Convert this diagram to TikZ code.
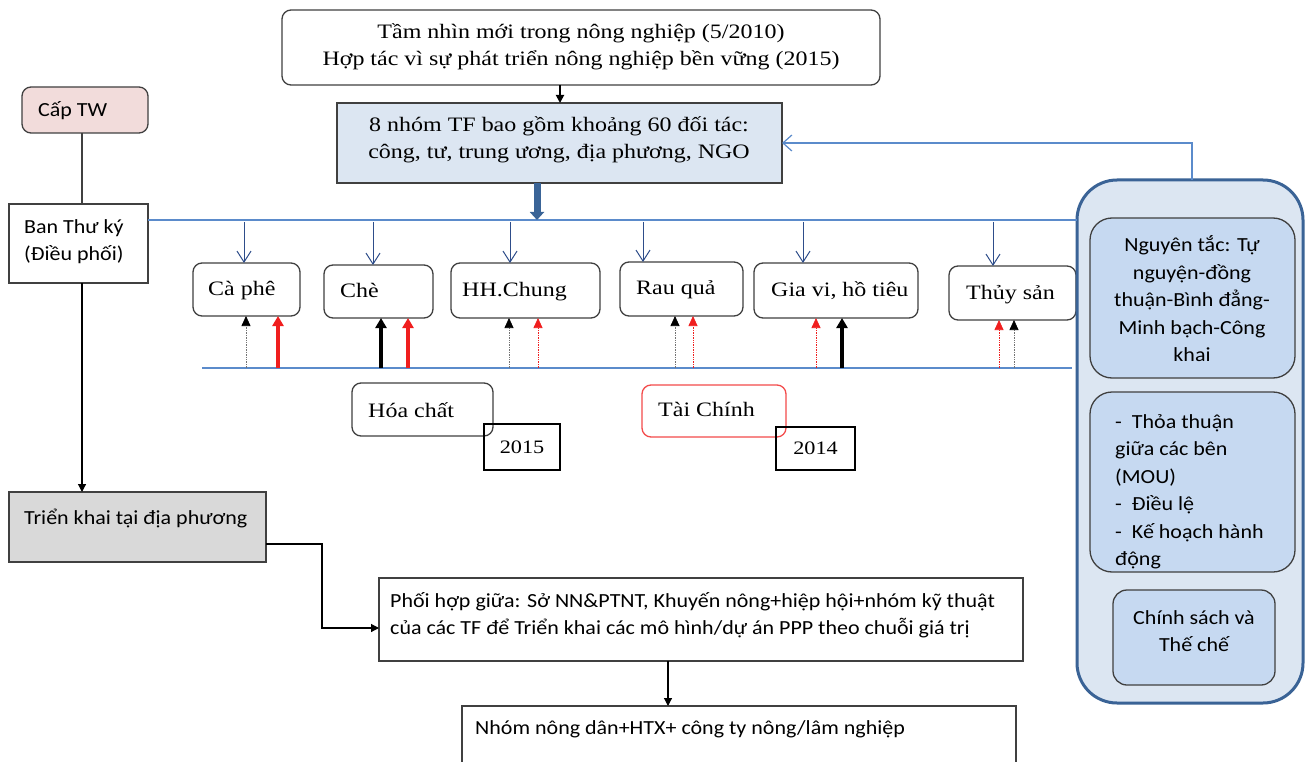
\documentclass[tikz,border=0pt]{standalone}
\usepackage{fontspec}
\setmainfont{Liberation Serif}
\newfontfamily\serf[FakeStretch=1.17]{Liberation Serif}
\newfontfamily\calf[FakeStretch=1.1]{Carlito}
\usetikzlibrary{arrows.meta,fit}
\definecolor{lineblue}{HTML}{5B8BCB}
\definecolor{arrowblue}{HTML}{2E4D8A}
\definecolor{thickblue}{HTML}{3A6497}
\definecolor{lightblue}{HTML}{DCE6F2}
\definecolor{midblue}{HTML}{C6D9F1}
\definecolor{contborder}{HTML}{3A6396}
\definecolor{pinkfill}{HTML}{F2DCDB}
\definecolor{grayfill}{HTML}{D9D9D9}
\definecolor{boxgray}{HTML}{404040}
\definecolor{myred}{HTML}{F01E1E}
\begin{document}
\begin{tikzpicture}[x=1pt,y=-1pt,
  box/.style={draw=boxgray, line width=1.3pt, inner sep=0pt, outer sep=0pt},
  rbox/.style={box, rounded corners=9pt},
  sertext/.style={font=\serf\fontsize{20.5}{27}\selectfont, inner sep=0pt},
  caltext/.style={font=\calf\fontsize{20}{27.5}\selectfont, inner sep=0pt},
  bus/.style={draw=lineblue, line width=1.2pt},
  down/.style={draw=arrowblue, line width=1pt, -{Straight Barb[length=11pt,width=14pt]}},
  blkdot/.style={draw=black!55, line width=0.7pt, densely dotted, -{Triangle[length=10pt,width=9pt,color=black]}},
  reddot/.style={draw=myred, line width=0.7pt, densely dotted, -{Triangle[length=10pt,width=9pt,color=myred]}},
  blkthick/.style={draw=black, line width=3.5pt, -{Triangle[length=10pt,width=11pt]}},
  redthick/.style={draw=myred, line width=3.5pt, -{Triangle[length=10pt,width=11pt]}},
  flow/.style={draw=black, line width=1.2pt, -{Triangle[length=8pt,width=8pt]}}
]
\useasboundingbox (0,0) rectangle (1306,762);
\fill[white] (0,0) rectangle (1306,762);

% top boxes
\node[rbox, fill=white, fit={(282,10) (880,85)}] (vision) {};
\node[sertext, align=center] (visiont) at (581,47) {Tầm nhìn mới trong nông nghiệp (5/2010)\\Hợp tác vì sự phát triển nông nghiệp bền vững (2015)};
\node[box, fill=lightblue, fit={(337,103) (782,183)}] (tf) {};
\node[sertext, align=center] (tft) at (559,140) {8 nhóm TF bao gồm khoảng 60 đối tác:\\công, tư, trung ương, địa phương, NGO};

% left column
\node[rbox, fill=pinkfill, fit={(22,87) (148,133)}] (captw) {};
\node[caltext, anchor=base west] (captwt) at (38,117) {Cấp TW};
\node[box, fill=white, fit={(9,204) (148,283)}] (bantk) {};
\node[caltext, anchor=north west, align=left] (bantkt) at (24,219) {Ban Thư ký\\(Điều phối)};
\node[box, fill=grayfill, fit={(9,492) (266,562)}] (trien) {};
\node[caltext, anchor=base west] (trient) at (24,524) {Triển khai tại địa phương};
\node[box, fill=white, fit={(379,578) (1023,661)}] (phoi) {};
\node[caltext, anchor=north west, align=left] (phoit) at (390,592) {Phối hợp giữa: Sở NN\&PTNT, Khuyến nông+hiệp hội+nhóm kỹ thuật\\của các TF để Triển khai các mô hình/dự án PPP theo chuỗi giá trị};
\node[box, fill=white, fit={(462,706) (1016,780)}] (nhom) {};
\node[caltext, anchor=base west] (nhomt) at (475,734) {Nhóm nông dân+HTX+ công ty nông/lâm nghiệp};

% categories
\node[rbox, fit={(193,263) (300,316)}] (caphe) {};
\node[sertext, anchor=base west] at (208,295) {Cà phê};
\node[rbox, fit={(324,265) (433,318)}] (che) {};
\node[sertext, anchor=base west] at (340,297) {Chè};
\node[rbox, fit={(451,263) (600,318)}] (hh) {};
\node[sertext, anchor=base west] at (462,296) {HH.Chung};
\node[rbox, fit={(620,262) (743,316)}] (rau) {};
\node[sertext, anchor=base west] at (636,294) {Rau quả};
\node[rbox, fit={(754,263) (918,318)}] (gia) {};
\node[sertext, anchor=base west] at (771,296) {Gia vi, hồ tiêu};
\node[rbox, fit={(949,266) (1076,320)}] (thuy) {};
\node[sertext, anchor=base west] at (966,299) {Thủy sản};

\node[rbox, fit={(352,383) (493,436)}] (hoa) {};
\node[sertext, anchor=base west] at (368,417) {Hóa chất};
\node[box, draw=black, fit={(484,424) (560,470)}] (y2015) {};
\node[sertext, font=\serf\fontsize{19}{22}\selectfont] at (y2015.center) {2015};
\node[rbox, draw=myred!80, fit={(642,385) (786,437)}] (tai) {};
\node[sertext, anchor=base west] at (658,416) {Tài Chính};
\node[box, draw=black, fit={(776,427) (855,470)}] (y2014) {};
\node[sertext, font=\serf\fontsize{19}{22}\selectfont] at (y2014.center) {2014};

% right container
\node[draw=contborder, line width=3pt, fill=lightblue, rounded corners=40pt, inner sep=0pt, outer sep=0pt, fit={(1077,180) (1303,703)}] (cont) {};
\node[rbox, fill=midblue, rounded corners=22pt, fit={(1090,218) (1295,378)}] (ng) {};
\node[caltext, align=center] (ngt) at (1192,299) {Nguyên tắc: Tự\\nguyện-đồng\\thuận-Bình đẳng-\\Minh bạch-Công\\khai};
\node[rbox, fill=midblue, rounded corners=22pt, fit={(1090,392) (1295,572)}] (tt) {};
\node[caltext, align=left, anchor=north west] (ttt) at (1115,414) {-\hspace{10pt}Thỏa thuận\\giữa các bên\\(MOU)\\-\hspace{10pt}Điều lệ\\-\hspace{10pt}Kế hoạch hành\\động};
\node[rbox, fill=midblue, rounded corners=14pt, fit={(1113,590) (1275,685)}] (cs) {};
\node[caltext, align=center] (cst) at (1194,631) {Chính sách và\\Thế chế};

% coordinates
\coordinate (busY) at (0,220);
\coordinate (x82) at (82,0);
\coordinate (x560) at (560,0);
\coordinate (x537) at (537,0);
\coordinate (x668) at (668,0);
\coordinate (x1192) at (1192,0);
\coordinate (tk1) at (322,544);
\coordinate (tk2) at (0,628);

% connectors
\draw[flow, line width=1.8pt] (vision.south -| x560) -- (tf.north -| x560);
\draw[bus] (bantk.east |- busY) -- (cont.west |- busY);
\draw[thickblue, line width=7pt, -{Triangle[length=8pt,width=14pt]}] (tf.south -| x537) -- (x537 |- busY);
\draw[lineblue, line width=1.2pt, -{Straight Barb[length=9pt,width=16pt]}] (cont.north -| x1192) |- (tf.east);
\draw[boxgray, line width=1.3pt] (captw.south -| x82) -- (bantk.north -| x82);
\draw[flow] (bantk.south -| x82) -- (trien.north -| x82);
\draw[flow] (trien.east |- tk1) -- (tk1) |- (phoi.west |- tk2);
\draw[flow] (phoi.south -| x668) -- (nhom.north -| x668);

\coordinate (bl) at (202,368);
\coordinate (br) at (1072,368);
\draw[bus] (bl) -- (br);

\foreach \x/\t in {244/caphe,373/che,510/hh,643/rau,803/gia,993/thuy}{
  \coordinate (d\x) at (\x,222);
  \draw[down] (d\x) -- (\t.north -| d\x);
}
\foreach \x/\s/\t in {246/blkdot/caphe,278/redthick/caphe,381/blkthick/che,408/redthick/che,509/blkdot/hh,538/reddot/hh,675/blkdot/rau,693/reddot/rau,816/reddot/gia,842/blkthick/gia,999/reddot/thuy,1014/blkdot/thuy}{
  \coordinate (u\x) at (\x,368);
  \draw[\s] (u\x) -- (\t.south -| u\x);
}
\end{tikzpicture}
\end{document}
